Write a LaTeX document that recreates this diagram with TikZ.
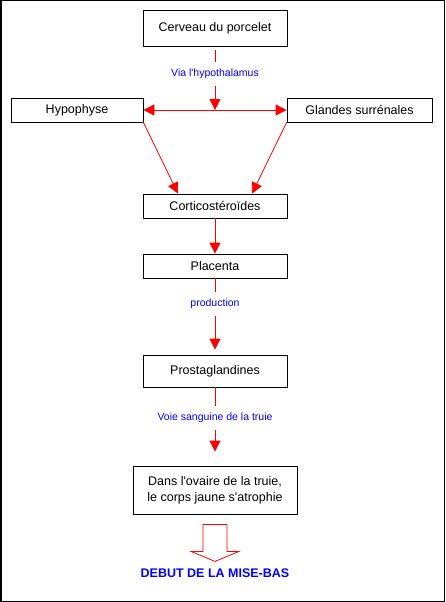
\documentclass[tikz,border=0pt]{standalone}
\usepackage{fontspec}
\setmainfont{Liberation Sans}
\usetikzlibrary{arrows.meta, positioning}
\tikzstyle{box} = [
  rectangle,
  minimum width=144pt,
  minimum height=24pt,
  text centered,
  align=center,
  inner sep=0,
  draw=black,
  line width=0.8pt,
  font=\fontsize{12.5}{16}\selectfont
]
\tikzstyle{lbl} = [
  minimum height=24pt,
  inner sep=0,
  text=blue,
  font=\fontsize{10.5}{12}\selectfont
]
\tikzstyle{line} = [
  red,
  line width=0.8pt
]
\tikzstyle{arrow} = [
  red,
  line width=0.8pt,
  -{Triangle[width=11pt,length=11pt]}
]
\tikzstyle{hollow} = [
  draw=red,
  line width=0.8pt
]

\begin{document}
\begin{tikzpicture}[x=1pt, y=1pt, node distance=60pt]

    \useasboundingbox (0,0) rectangle (445,-602);
    \draw [line width=1.5pt] (0.75,-0.75) rectangle (444.25,-601.25);

    \node (cerveau) [box, minimum height=36pt] at (215,-28) {Cerveau du porcelet};
    \node (hypo) [box, minimum width=132pt, below of=cerveau, node distance=82pt, xshift=-138pt] {Hypophyse};
    \node (glandes) [box, minimum width=145pt, below of=cerveau, node distance=82pt, xshift=144.5pt] {Glandes surrénales};
    \node (cortico) [box, below of=cerveau, node distance=178pt] {Corticostéroïdes};
    \node (placenta) [box, below of=cortico] {Placenta};
    \node (prosta) [box, minimum height=32pt, below of=placenta, node distance=105pt] {Prostaglandines};
    \node (ovaire) [box, minimum width=164pt, minimum height=48pt, below of=prosta, node distance=119pt] {Dans l\textquotesingle ovaire de la truie,\\le corps jaune s\textquotesingle atrophie};
    \node (debut) [below of=ovaire, node distance=83pt, text=blue, font=\fontsize{12.5}{14}\selectfont\bfseries] {DEBUT DE LA MISE-BAS};

    \node (via) [lbl, below of=cerveau, node distance=46pt] {Via l\textquotesingle hypothalamus};
    \node (prod) [lbl, below of=placenta, node distance=38pt] {production};
    \node (voie) [lbl, below of=prosta, node distance=47pt] {Voie sanguine de la truie};

    \draw [line] ([yshift=-4pt]cerveau.south) -- (via);
    \draw [arrow] (via) -- (via |- hypo);
    \draw [arrow, {Triangle[width=11pt,length=11pt]}-{Triangle[width=11pt,length=11pt]}] (hypo) -- (glandes);
    \draw [arrow] (hypo.south east) -- ([xshift=-37pt]cortico.north);
    \draw [arrow] (glandes.south west) -- ([xshift=37pt]cortico.north);
    \draw [arrow] (cortico) -- (placenta);
    \draw [line] (placenta) -- (prod);
    \draw [arrow] (prod) -- ([yshift=5pt]prosta.north);
    \draw [line] (prosta) -- (voie);
    \draw [arrow] (voie) -- ([yshift=14pt]ovaire.north);

    \coordinate (fleche) at ([yshift=-10pt]ovaire.south);
    \draw [hollow] (fleche) ++(-12,0) -- ++(0,-27) -- ++(-12,0) -- ++(24,-10) -- ++(24,10) -- ++(-12,0) -- ++(0,27) -- cycle;

  \end{tikzpicture}
\end{document}
